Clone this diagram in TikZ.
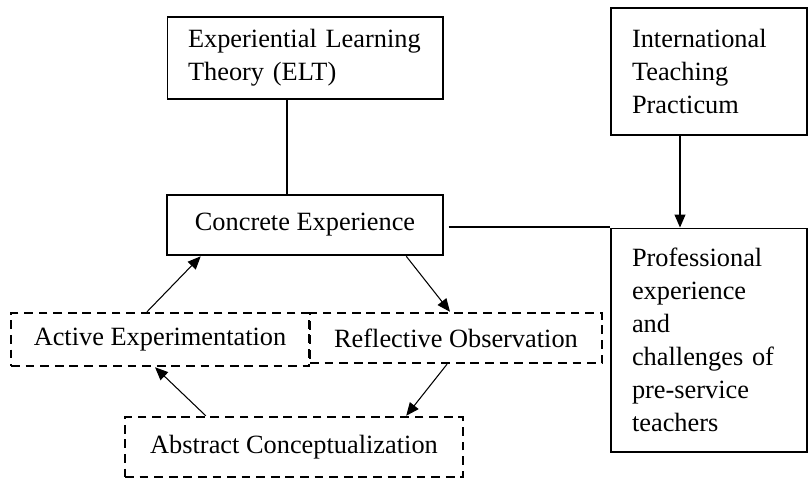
\documentclass[tikz,border=0pt]{standalone}
\usepackage{fontspec}
\setmainfont{Liberation Serif}
\usetikzlibrary{arrows.meta,calc}

\begin{document}
\begin{tikzpicture}[x=.02cm,y=-.02cm,font=\fontsize{15}{18.8}\selectfont,
    box/.style={draw,line width=.6pt,inner sep=0pt},
    leftbox/.style={box,align=left,inner xsep=.42cm},
    dashbox/.style={draw,line width=1.4pt,dash pattern=on 5pt off 3.3pt,inner sep=0pt},
    flow/.style={-{Triangle[length=2.6mm,width=2.2mm]},line width=.6pt}]
    \useasboundingbox (0,0) rectangle (812,478);
    % theory and practicum
    \node[leftbox,text width=4.68cm,minimum height=1.64cm] (elt) at (305,58) {Experiential Learning\\Theory (ELT)};
    \node[leftbox,text width=3.08cm,minimum height=2.54cm] (itp) at (709,71.5) {International\\Teaching\\Practicum};
    \node[leftbox,text width=3.08cm,minimum height=4.48cm] (pe) at (709,340) {Professional\\experience\\and\\challenges of\\pre-service\\teachers};
    % Kolb cycle
    \node[box,line width=1.5pt,minimum width=5.52cm,minimum height=1.2cm] (ce) at (305,225) {Concrete Experience};
    \node[dashbox,minimum width=5.96cm,minimum height=1.06cm] (ae) at (160,339.5) {Active Experimentation};
    \node[dashbox,minimum width=5.84cm,minimum height=1cm] (ro) at (456,338) {Reflective Observation};
    \node[dashbox,minimum width=6.76cm,minimum height=1.2cm] (ac) at (294,447) {Abstract Conceptualization};
    % links
    \draw[line width=.6pt] ($(elt.south)+(-18,0)$) -- ($(ce.north)+(-18,0)$);
    \draw[line width=.6pt,shorten <=2.5pt] ($(ce.east)+(0,2)$) -- ($(ce.east -| pe.west)+(0,2)$);
    \draw[flow] ($(itp.south)+(-29,0)$) -- ($(pe.north)+(-29,0)$);
    \draw[flow] ($(ae.north)+(-13,0)$) -- ($(ce.south west)+(35,0)$);
    \draw[flow] ($(ce.south east)+(-38,0)$) -- ($(ro.north)+(-6,0)$);
    \draw[flow] ($(ro.south)+(-9,0)$) -- ($(ac.north east)+(-58,0)$);
    \draw[flow] ($(ac.north west)+(82,0)$) -- ($(ae.south)+(-5,0)$);
\end{tikzpicture}
\end{document}
